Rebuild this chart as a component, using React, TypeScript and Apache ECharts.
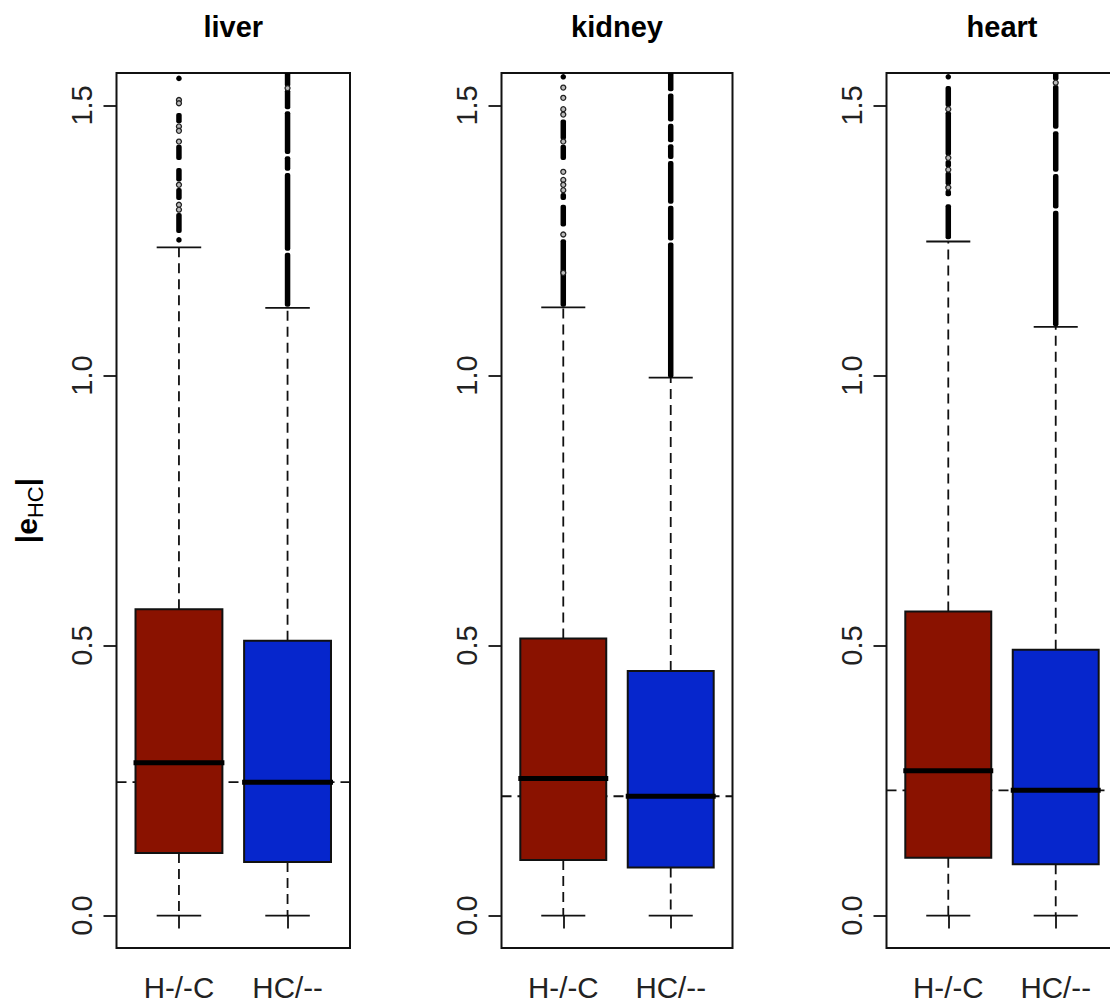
import React, { useEffect, useRef } from "react";
import * as echarts from "echarts";

const tissues = ["liver", "kidney", "heart"];
const groups = ["H-/-C", "HC/--"];
const groupColors = ["#8a1200", "#0626cc"];
const yTicks = [0, 0.5, 1.0, 1.5];
const xTicks = [1, 2];

// [position, lower whisker, Q1, median, Q3, upper whisker]
const liverStats = [
  [1, 0, 0.116, 0.283, 0.567, 1.237],
  [2, 0, 0.099, 0.247, 0.509, 1.125],
];
const kidneyStats = [
  [1, 0, 0.103, 0.254, 0.513, 1.126],
  [2, 0, 0.089, 0.221, 0.453, 0.996],
];
const heartStats = [
  [1, 0, 0.107, 0.268, 0.563, 1.248],
  [2, 0, 0.095, 0.232, 0.492, 1.09],
];

// dashed reference line (median of HC/--)
const refLines = [0.247, 0.221, 0.232];

// isolated outliers [position, value, open(1) / filled(0)]
const liverOutliers = [
  [1, 1.55, 0], [1, 1.51, 1], [1, 1.504, 1], [1, 1.461, 1], [1, 1.453, 1],
  [1, 1.433, 1], [1, 1.353, 1], [1, 1.316, 1], [1, 1.307, 1], [1, 1.251, 0],
  [2, 1.532, 1],
];
const kidneyOutliers = [
  [1, 1.553, 0], [1, 1.533, 1], [1, 1.514, 1], [1, 1.493, 1], [1, 1.483, 1],
  [1, 1.433, 1], [1, 1.377, 1], [1, 1.362, 1], [1, 1.353, 1], [1, 1.343, 1],
  [1, 1.261, 1], [1, 1.19, 1],
];
const heartOutliers = [
  [1, 1.553, 0], [1, 1.493, 1], [1, 1.403, 1], [1, 1.381, 1], [1, 1.348, 1],
  [2, 1.542, 1],
];

// dense runs of overlapping outliers [position, from, to]
const liverRuns = [
  [1, 1.467, 1.486], [1, 1.399, 1.427], [1, 1.359, 1.384], [1, 1.325, 1.347], [1, 1.264, 1.301],
  [2, 1.127, 1.227], [2, 1.231, 1.375], [2, 1.379, 1.406], [2, 1.41, 1.489], [2, 1.493, 1.53], [2, 1.534, 1.6],
];
const kidneyRuns = [
  [1, 1.436, 1.474], [1, 1.399, 1.427], [1, 1.325, 1.338], [1, 1.276, 1.316], [1, 1.127, 1.252],
  [2, 0.996, 1.246], [2, 1.25, 1.314], [2, 1.318, 1.397], [2, 1.401, 1.428], [2, 1.432, 1.466],
  [2, 1.47, 1.522], [2, 1.526, 1.6],
];
const heartRuns = [
  [1, 1.497, 1.536], [1, 1.407, 1.489], [1, 1.385, 1.399], [1, 1.352, 1.377], [1, 1.332, 1.344],
  [1, 1.252, 1.317],
  [2, 1.091, 1.305], [2, 1.309, 1.373], [2, 1.377, 1.452], [2, 1.457, 1.538], [2, 1.546, 1.6],
];

const panelStats = [liverStats, kidneyStats, heartStats];
const panelOutliers = [liverOutliers, kidneyOutliers, heartOutliers];
const panelRuns = [liverRuns, kidneyRuns, heartRuns];

const FONT = "'Liberation Sans', Arial, sans-serif";

export default function App() {
  const ref = useRef<HTMLDivElement>(null);

  useEffect(() => {
    if (!ref.current) return;
    const chart = echarts.init(ref.current, null, { renderer: "svg" });

    const gridLefts = [116.5, 501.5, 886.5];
    const gridWidths = [233.5, 231, 231];
    const dash = [10, 6];
    const LW = 1.8;

    const grids = gridLefts.map((l, i) => ({
      left: l,
      top: 73,
      width: gridWidths[i],
      height: 875,
      show: true,
      borderColor: "#111",
      borderWidth: 2,
      backgroundColor: "transparent",
      containLabel: false,
      outerBoundsMode: "none",
    }));

    const xAxes = tissues.map((_, i) => ({
      type: "value",
      gridIndex: i,
      min: 0.425,
      max: 2.575,
      axisLine: { show: false },
      splitLine: { show: false },
      axisTick: {
        show: true,
        customValues: xTicks,
        length: 13,
        lineStyle: { color: "#111", width: LW },
      },
      axisLabel: {
        show: true,
        customValues: xTicks,
        margin: 24,
        fontSize: 29.5,
        fontFamily: FONT,
        color: "#222",
        formatter: (v: number) => groups[Math.round(v) - 1],
      },
    }));

    const yAxes = tissues.map((_, i) => ({
      type: "value",
      gridIndex: i,
      min: -0.06,
      max: 1.56,
      axisLine: { show: false },
      splitLine: { show: false },
      axisTick: {
        show: true,
        customValues: yTicks,
        length: 13,
        lineStyle: { color: "#111", width: LW },
      },
      axisLabel: {
        show: true,
        customValues: yTicks,
        rotate: 90,
        margin: 20,
        fontSize: 29,
        fontFamily: FONT,
        color: "#222",
        formatter: (v: number) => v.toFixed(1),
      },
      ...(i === 0
        ? {
            name: "{b||}{e|e}{s|HC}{b||}",
            nameLocation: "middle",
            nameRotate: 90,
            nameGap: 70,
            nameTextStyle: {
              rich: {
                b: { fontSize: 30, fontWeight: "bold", fontFamily: FONT, color: "#000", lineHeight: 30, verticalAlign: "top" },
                e: { fontSize: 30, fontWeight: "bold", fontFamily: FONT, color: "#000", lineHeight: 30, verticalAlign: "top" },
                s: { fontSize: 22, fontFamily: FONT, color: "#000", lineHeight: 35, verticalAlign: "bottom" },
              },
            },
          }
        : {}),
    }));

    const series: any[] = [];
    tissues.forEach((_, i) => {
      // reference dashed line
      series.push({
        type: "custom",
        xAxisIndex: i,
        yAxisIndex: i,
        z: 1,
        silent: true,
        data: [[1, refLines[i]]],
        encode: { x: 0, y: 1 },
        renderItem: (params: any, api: any) => {
          const cs = params.coordSys;
          const y = api.coord([1, api.value(1)])[1];
          return {
            type: "line",
            shape: { x1: cs.x, y1: y, x2: cs.x + cs.width, y2: y },
            style: { stroke: "#111", lineWidth: LW, lineDash: dash },
          };
        },
      });
      // boxes
      series.push({
        type: "custom",
        xAxisIndex: i,
        yAxisIndex: i,
        z: 2,
        silent: true,
        data: panelStats[i],
        encode: { x: 0, y: [1, 2, 3, 4, 5] },
        renderItem: (params: any, api: any) => {
          const pos = api.value(0);
          const [cx, yLow] = api.coord([pos, api.value(1)]);
          const yQ1 = api.coord([pos, api.value(2)])[1];
          const yMed = api.coord([pos, api.value(3)])[1];
          const yQ3 = api.coord([pos, api.value(4)])[1];
          const yHigh = api.coord([pos, api.value(5)])[1];
          const w = api.size([0.8, 0])[0];
          const capW = api.size([0.41, 0])[0];
          const color = groupColors[Math.round(pos) - 1];
          const ws = { stroke: "#111", lineWidth: LW, lineDash: dash };
          const cs = { stroke: "#111", lineWidth: LW };
          return {
            type: "group",
            children: [
              { type: "line", shape: { x1: cx, y1: yQ3, x2: cx, y2: yHigh }, style: ws },
              { type: "line", shape: { x1: cx, y1: yQ1, x2: cx, y2: yLow }, style: ws },
              { type: "line", shape: { x1: cx - capW / 2, y1: yHigh, x2: cx + capW / 2, y2: yHigh }, style: cs },
              { type: "line", shape: { x1: cx - capW / 2, y1: yLow, x2: cx + capW / 2, y2: yLow }, style: cs },
              {
                type: "rect",
                shape: { x: cx - w / 2, y: yQ3, width: w, height: yQ1 - yQ3 },
                style: { fill: color, stroke: "#111", lineWidth: 2 },
              },
              {
                type: "line",
                shape: { x1: cx - w / 2 - 2, y1: yMed, x2: cx + w / 2 + 2, y2: yMed },
                style: { stroke: "#000", lineWidth: 5 },
              },
            ],
          };
        },
      });
      // dense outlier runs
      series.push({
        type: "custom",
        xAxisIndex: i,
        yAxisIndex: i,
        z: 3,
        silent: true,
        clip: true,
        data: panelRuns[i],
        encode: { x: 0, y: [1, 2] },
        renderItem: (params: any, api: any) => {
          const pos = api.value(0);
          const [cx, yLo] = api.coord([pos, api.value(1)]);
          const yHi = api.coord([pos, api.value(2)])[1];
          return {
            type: "rect",
            shape: { x: cx - 2.75, y: yHi, width: 5.5, height: yLo - yHi, r: 2 },
            style: { fill: "#000" },
          };
        },
      });
      // isolated outliers
      series.push({
        type: "scatter",
        xAxisIndex: i,
        yAxisIndex: i,
        z: 4,
        silent: true,
        symbol: "circle",
        symbolSize: 5.5,
        itemStyle: { color: "#000", opacity: 1 },
        data: panelOutliers[i].filter((d) => d[2] === 0).map((d) => [d[0], d[1]]),
      });
      series.push({
        type: "scatter",
        xAxisIndex: i,
        yAxisIndex: i,
        z: 4,
        silent: true,
        symbol: "circle",
        symbolSize: 5,
        itemStyle: { color: "#bbb", borderColor: "#222", borderWidth: 1.3, opacity: 1 },
        data: panelOutliers[i].filter((d) => d[2] === 1).map((d) => [d[0], d[1]]),
      });
    });

    const titleCenters = gridLefts.map((l, i) => l + gridWidths[i] / 2);

    chart.setOption({
      animation: false,
      backgroundColor: "#fff",
      grid: grids,
      xAxis: xAxes,
      yAxis: yAxes,
      series,
      graphic: tissues.map((t, i) => ({
        type: "text",
        x: titleCenters[i],
        y: 27.3,
        silent: true,
        style: {
          text: t,
          align: "center",
          verticalAlign: "middle",
          fontSize: 29,
          fontWeight: "bold",
          fontFamily: FONT,
          fill: "#000",
        },
      })),
    });

    return () => chart.dispose();
  }, []);

  return (
    <div
      ref={ref}
      style={{ position: "absolute", left: 0, top: 0, width: 1110, height: 1003 }}
    />
  );
}
